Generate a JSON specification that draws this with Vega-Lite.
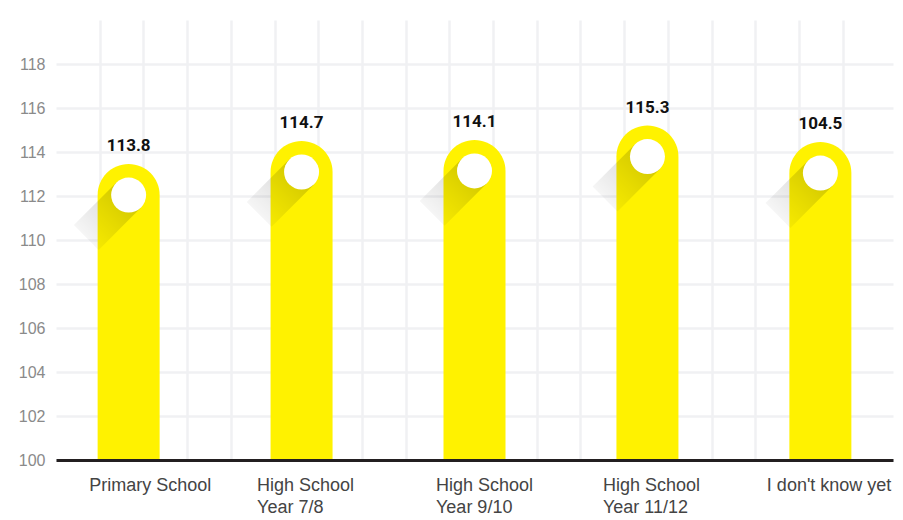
{
  "$schema": "https://vega.github.io/schema/vega-lite/v6.json",
  "width": 837,
  "height": 440,
  "autosize": {"type": "none"},
  "padding": {"left": 56, "top": 20, "right": 10, "bottom": 60},
  "background": "white",
  "config": {"view": {"stroke": null}},
  "data": {
    "values": [
      {"stage": "Primary School", "value": 113.8, "level": 113.45},
      {"stage": "High School|Year 7/8", "value": 114.7, "level": 114.5},
      {"stage": "High School|Year 9/10", "value": 114.1, "level": 114.55},
      {"stage": "High School|Year 11/12", "value": 115.3, "level": 115.2},
      {"stage": "I don't know yet", "value": 104.5, "level": 114.45}
    ]
  },
  "layer": [
    {
      "mark": {"type": "point", "opacity": 0},
      "encoding": {
        "x": {
          "datum": 0,
          "type": "quantitative",
          "scale": {"domain": [0, 19.15], "nice": false, "zero": false},
          "axis": {
            "orient": "top",
            "values": [1,2,3,4,5,6,7,8,9,10,11,12,13,14,15,16,17,18],
            "labels": false,
            "ticks": false,
            "domain": false,
            "title": null,
            "grid": true,
            "gridColor": "#f0f1f3",
            "gridWidth": 2.5
          }
        },
        "y": {
          "field": "level",
          "type": "quantitative",
          "scale": {"domain": [100, 120], "nice": false, "zero": false},
          "axis": {
            "title": null,
            "values": [100,102,104,106,108,110,112,114,116,118],
            "ticks": false,
            "domain": false,
            "labelPadding": 11,
            "labelFont": "Liberation Sans",
            "labelFontSize": 16,
            "labelColor": "#8a8a8a",
            "gridColor": "#f0f1f3",
            "gridWidth": 2.5
          }
        }
      }
    },
    {
      "layer": [
        {
          "mark": {"type": "bar", "color": "#fff200", "size": 62, "cornerRadiusTopLeft": 31, "cornerRadiusTopRight": 31},
          "encoding": {
            "y2": {"datum": 100}
          }
        },
        {
          "mark": {
            "type": "point",
            "shape": "M0.207,0.207 L-0.207,-0.207 L-0.913,0.5 L-0.5,0.913 Z",
            "size": 14400,
            "filled": true,
            "opacity": 1,
            "strokeWidth": 0,
            "yOffset": 31,
            "fill": {
              "gradient": "linear",
              "x1": 1, "y1": 0, "x2": 0, "y2": 1,
              "stops": [
                {"offset": 0, "color": "rgba(0,0,0,0.22)"},
                {"offset": 0.5, "color": "rgba(0,0,0,0.1)"},
                {"offset": 1, "color": "rgba(0,0,0,0)"}
              ]
            }
          }
        },
        {
          "mark": {"type": "point", "shape": "circle", "filled": true, "color": "white", "opacity": 1, "size": 1225, "yOffset": 31}
        },
        {
          "mark": {"type": "text", "baseline": "bottom", "dy": -9, "font": "Roboto", "fontWeight": "bold", "fontSize": 17, "color": "#111"},
          "encoding": {"text": {"field": "value", "type": "quantitative", "format": ".1f"}}
        }
      ],
      "encoding": {
        "x": {
          "field": "stage",
          "type": "nominal",
          "sort": null,
          "scale": {"type": "point", "padding": 0.42},
          "axis": {
            "title": null,
            "labelExpr": "split(datum.label, '|')",
            "labelAngle": 0,
            "labelAlign": "left",
            "labelOffset": {
              "condition": [
                {"test": "datum.value === \"Primary School\"", "value": -40},
                {"test": "datum.value === \"High School|Year 9/10\"", "value": -39},
                {"test": "datum.value === \"I don't know yet\"", "value": -54}
              ],
              "value": -45
            },
            "labelPadding": 16,
            "labelFont": "Liberation Sans",
            "labelFontSize": 18,
            "labelColor": "#444",
            "labelLineHeight": 22,
            "ticks": false,
            "domainColor": "#231f20",
            "domainWidth": 3,
            "grid": false,
            "zindex": 1
          }
        },
        "y": {
          "field": "level",
          "type": "quantitative",
          "scale": {"domain": [100, 120], "nice": false, "zero": false},
          "axis": {
            "title": null,
            "values": [100,102,104,106,108,110,112,114,116,118],
            "ticks": false,
            "domain": false,
            "labelPadding": 11,
            "labelFont": "Liberation Sans",
            "labelFontSize": 16,
            "labelColor": "#8a8a8a",
            "gridColor": "#f0f1f3",
            "gridWidth": 2.5
          }
        }
      }
    }
  ],
  "resolve": {"scale": {"x": "independent"}, "axis": {"x": "independent"}}
}
